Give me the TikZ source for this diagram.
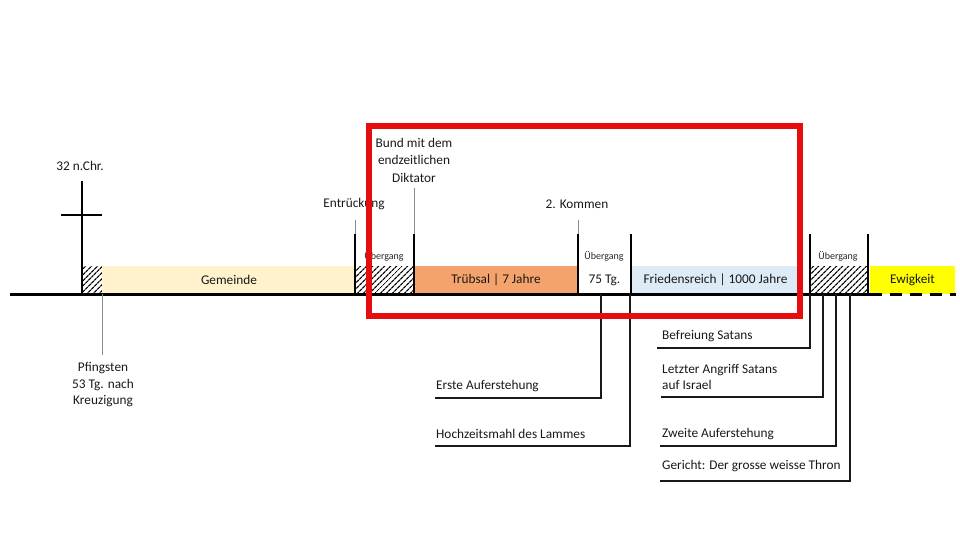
\documentclass[tikz,border=0pt]{standalone}
\usepackage{fontspec}
\setmainfont{Carlito}
\usetikzlibrary{patterns.meta}
\definecolor{gemc}{HTML}{FFF2CC}
\definecolor{tribc}{HTML}{F5A36C}
\definecolor{friec}{HTML}{DDEBF7}
\definecolor{ewic}{HTML}{FFFF00}
\definecolor{redc}{HTML}{E50D0D}
\tikzset{
  band/.style={draw=none, minimum height=28pt, inner sep=0pt, font=\fontsize{13.3}{15}\selectfont, text=black!90},
  hatchbox/.style={draw=none, minimum height=28pt, inner sep=0pt, pattern={Lines[angle=45,distance=4pt,line width=1.3pt]}},
  tick/.style={line width=2.6pt, black},
  base/.style={line width=3pt, black},
  thin/.style={line width=0.8pt, black!45},
  conn/.style={line width=1.6pt, black!90},
  lbl/.style={font=\fontsize{13.3}{16}\selectfont, text=black!90, inner sep=0pt},
  small/.style={font=\fontsize{10}{11}\selectfont, text=black!85, inner sep=0pt},
}
\begin{document}
\begin{tikzpicture}[x=1pt,y=-1pt]
\useasboundingbox (0,0) rectangle (960,540);
% bands
\node[hatchbox, minimum width=20pt] (h0) at (92,280) {};
\node[band, fill=gemc, minimum width=254pt] (gem) at (229,280) {Gemeinde};
\node[hatchbox, minimum width=58pt] (h1) at (385,280) {};
\node[band, fill=tribc, minimum width=164pt] (trib) at (496,280) {Trübsal | 7 Jahre};
\node[band, minimum width=53pt] (tg) at (604.5,280) {75 Tg.};
\node[band, fill=friec, minimum width=169pt] (frie) at (715.5,280) {Friedensreich | 1000 Jahre};
\node[hatchbox, minimum width=58pt] (h2) at (839,280) {};
\node[band, fill=ewic, minimum width=85pt] (ewi) at (912.5,280) {Ewigkeit};
% baseline
\coordinate (b0) at (10,294);
\coordinate (b1) at (870,294);
\coordinate (b2) at (956,294);
\draw[base] (b0) -- (b1);
\draw[base, dash pattern=on 12pt off 8pt] (b1) -- (b2);
% cross
\coordinate (cr0) at (82,181);
\coordinate (cr1) at (82,294);
\coordinate (cb0) at (61,215);
\coordinate (cb1) at (102,215);
\draw[tick] (cr0) -- (cr1);
\draw[tick] (cb0) -- (cb1);
\node[lbl] (chr) at (80,166) {32 n.Chr.};
% ticks
\foreach \n/\x in {t1/355, t2/414, t3/578, t4/631, t5/810, t6/868}{
  \coordinate (\n top) at (\x,234);
  \coordinate (\n bot) at (\x,294);
  \draw[tick] (\n top) -- (\n bot);
}
% small labels
\node[small] (u1) at (384,256) {Übergang};
\node[small] (u2) at (604,256) {Übergang};
\node[small] (u3) at (838,256) {Übergang};
% top labels
\node[lbl] (entr) at (354,204) {Entrückung};
\node[lbl] (komm) at (577,204) {2. Kommen};
\node[lbl, align=center, font=\fontsize{13.3}{17.5}\selectfont] (bund) at (414,160) {Bund mit dem\\endzeitlichen\\Diktator};
\coordinate (entrl) at (355,220);
\coordinate (komml) at (578,220);
\coordinate (bundl) at (414,188);
\draw[thin] (entrl) -- (t1top);
\draw[thin] (komml) -- (t3top);
\draw[thin] (bundl) -- (t2top);
% Pfingsten
\coordinate (pf0) at (102,294);
\coordinate (pf1) at (102,355);
\draw[thin] (pf0) -- (pf1);
\node[lbl, align=center, font=\fontsize{13.3}{16.5}\selectfont] (pf) at (103,385) {Pfingsten\\53 Tg. nach\\Kreuzigung};
% lower labels
\node[lbl, anchor=west] (ea) at (436,386) {Erste Auferstehung};
\node[lbl, anchor=west] (hz) at (436,434) {Hochzeitsmahl des Lammes};
\node[lbl, anchor=west] (bs) at (662,336) {Befreiung Satans};
\node[lbl, anchor=west, align=left, font=\fontsize{13.3}{16.5}\selectfont] (la) at (662,377) {Letzter Angriff Satans\\auf Israel};
\node[lbl, anchor=west] (za) at (662,434) {Zweite Auferstehung};
\node[lbl, anchor=west] (ge) at (662,466) {Gericht: Der grosse weisse Thron};
% connectors
\coordinate (ea0) at (601,294); \coordinate (ea1) at (435,398);
\coordinate (hz0) at (630,294); \coordinate (hz1) at (435,446);
\coordinate (bs0) at (810,294); \coordinate (bs1) at (657,348);
\coordinate (la0) at (823,294); \coordinate (la1) at (661,397);
\coordinate (za0) at (836,294); \coordinate (za1) at (660,446);
\coordinate (ge0) at (850,294); \coordinate (ge1) at (660,481);
\foreach \c in {ea,hz,bs,la,za,ge}{
  \draw[conn] (\c0) |- (\c1);
}
% red frame
\coordinate (rf0) at (369,126);
\coordinate (rf1) at (800,316);
\draw[redc, line width=6pt] (rf0) rectangle (rf1);
\end{tikzpicture}
\end{document}
